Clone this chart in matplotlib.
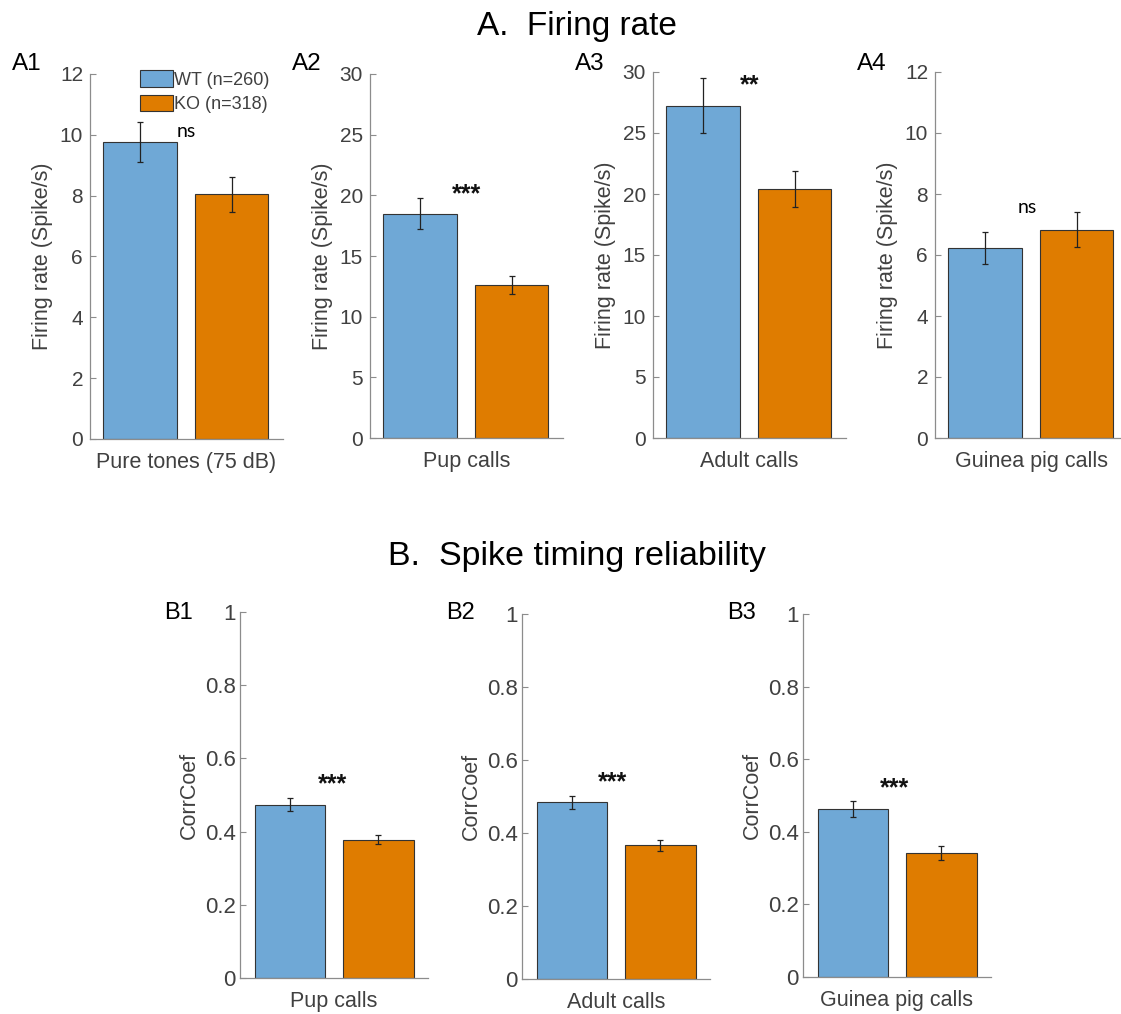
import numpy as np
import matplotlib
matplotlib.use("Agg")
import matplotlib.pyplot as plt

plt.rcParams['font.family'] = ['Liberation Sans', 'DejaVu Sans']

# ---- data ----
groups = ["WT (n=260)", "KO (n=318)"]

fr_stimuli = ["Pure tones (75 dB)", "Pup calls", "Adult calls", "Guinea pig calls"]
fr_wt = [9.76, 18.5, 27.25, 6.23]
fr_wt_err = [0.65, 1.24, 2.22, 0.53]
fr_ko = [8.05, 12.6, 20.4, 6.83]
fr_ko_err = [0.58, 0.74, 1.45, 0.58]
fr_ymax = [12, 30, 30, 12]
fr_ystep = [2, 5, 5, 2]
fr_sig = ["ns", "***", "**", "ns"]
fr_panels = ["A1", "A2", "A3", "A4"]

cc_stimuli = ["Pup calls", "Adult calls", "Guinea pig calls"]
cc_wt = [0.474, 0.484, 0.463]
cc_wt_err = [0.017, 0.017, 0.022]
cc_ko = [0.378, 0.366, 0.342]
cc_ko_err = [0.013, 0.015, 0.019]
cc_sig = ["***", "***", "***"]
cc_panels = ["B1", "B2", "B3"]

# ---- layout (pixels in a 1121x1014 canvas) ----
W, H = 1121, 1014
fr_boxes = [(90, 74, 193, 439), (370, 74, 193, 438), (653, 72, 193, 438), (935, 72, 193, 438)]
cc_boxes = [(240, 612, 188, 978), (522, 614, 188, 979), (803, 614, 188, 977)]
# where the significance marks sit (data coords): x, y (ns: baseline, stars: glyph centre)
fr_sig_pos = [(1.51, 9.93), (1.51, 20.7), (1.51, 29.5), (1.465, 7.38)]
cc_sig_pos = [(1.48, 0.55), (1.46, 0.56), (1.475, 0.54)]

c_wt = "#6fa8d6"
c_ko = "#df7c00"
axis_col = "#8c8c8c"
text_col = "#404040"

fig = plt.figure(figsize=(W / 100, H / 100), dpi=100)


def make_ax(box):
    left, top, width, bottom = box
    return fig.add_axes([left / W, 1 - bottom / H, width / W, (bottom - top) / H])


def draw_panel(ax, wt, wt_e, ko, ko_e, ymax, ystep, xlabel, ylabel, xlim, ylab_x, tpad, tsize):
    x = np.array([1, 2])
    ax.bar(x, [wt, ko], width=0.8, color=[c_wt, c_ko], edgecolor="#333333", linewidth=0.8)
    ax.errorbar(x, [wt, ko], yerr=[wt_e, ko_e], fmt="none", ecolor="#222222",
                elinewidth=0.9, capsize=2.5, capthick=0.9)
    ax.set_xlim(*xlim)
    ax.set_ylim(0, ymax)
    ax.set_yticks(np.arange(0, ymax + ystep / 2, ystep))
    ax.set_xticks([])
    for s in ["top", "right"]:
        ax.spines[s].set_visible(False)
    for s in ["left", "bottom"]:
        ax.spines[s].set_color(axis_col)
        ax.spines[s].set_linewidth(0.9)
    ax.tick_params(axis="y", direction="in", length=4, width=0.8, color=axis_col,
                   labelcolor=text_col, labelsize=tsize, pad=tpad)
    ax.set_ylabel(ylabel, fontsize=15.5, color=text_col)
    ax.yaxis.set_label_coords(ylab_x, 0.5)
    ax.set_xlabel(xlabel, fontsize=15.5, color=text_col, va="top")
    ax.xaxis.set_label_coords(0.5, -0.036)


def sig_mark(ax, txt, pos):
    if txt == "ns":
        ax.text(pos[0], pos[1], txt, ha="center", va="baseline", fontsize=14,
                family=["Lato", "DejaVu Sans"], color="black")
    else:
        fs = 18
        ax.annotate(txt, pos, xytext=(0, -0.58 * fs), textcoords="offset points",
                    ha="center", va="baseline", fontsize=fs, fontweight="bold", color="#111111")


axes_fr = []
for i in range(4):
    ax = make_ax(fr_boxes[i])
    draw_panel(ax, fr_wt[i], fr_wt_err[i], fr_ko[i], fr_ko_err[i], fr_ymax[i], fr_ystep[i],
               fr_stimuli[i], "Firing rate (Spike/s)", (0.455, 2.56), -0.19, 5, 15)
    sig_mark(ax, fr_sig[i], fr_sig_pos[i])
    left, top = fr_boxes[i][0], fr_boxes[i][1]
    fig.text((left - 78) / W, 1 - 70 / H, fr_panels[i], fontsize=17.5, color="black",
             ha="left", va="baseline")
    axes_fr.append(ax)

for i in range(3):
    ax = make_ax(cc_boxes[i])
    draw_panel(ax, cc_wt[i], cc_wt_err[i], cc_ko[i], cc_ko_err[i], 1, 0.2,
               cc_stimuli[i], "CorrCoef", (0.435, 2.56), -0.215, 3, 16)
    ax.set_yticklabels(["0", "0.2", "0.4", "0.6", "0.8", "1"])
    sig_mark(ax, cc_sig[i], cc_sig_pos[i])
    left = cc_boxes[i][0]
    fig.text((left - 76) / W, 1 - 619 / H, cc_panels[i], fontsize=17, color="black",
             ha="left", va="baseline")

# legend in A1
handles = axes_fr[0].patches[:2]
axes_fr[0].legend(handles, groups, loc="upper left", bbox_to_anchor=(0.26, 1.01),
                  frameon=False, fontsize=13, borderpad=0, borderaxespad=0,
                  handlelength=1.8, handleheight=1.0, handletextpad=0.1,
                  labelspacing=0.35, labelcolor=text_col)

fig.text(577 / W, 1 - 35 / H, "A.  Firing rate", fontsize=24, ha="center", va="baseline")
fig.text(577 / W, 1 - 565 / H, "B.  Spike timing reliability", fontsize=24.5, ha="center",
         va="baseline")

fig.savefig("out.png", dpi=100, facecolor="white")
